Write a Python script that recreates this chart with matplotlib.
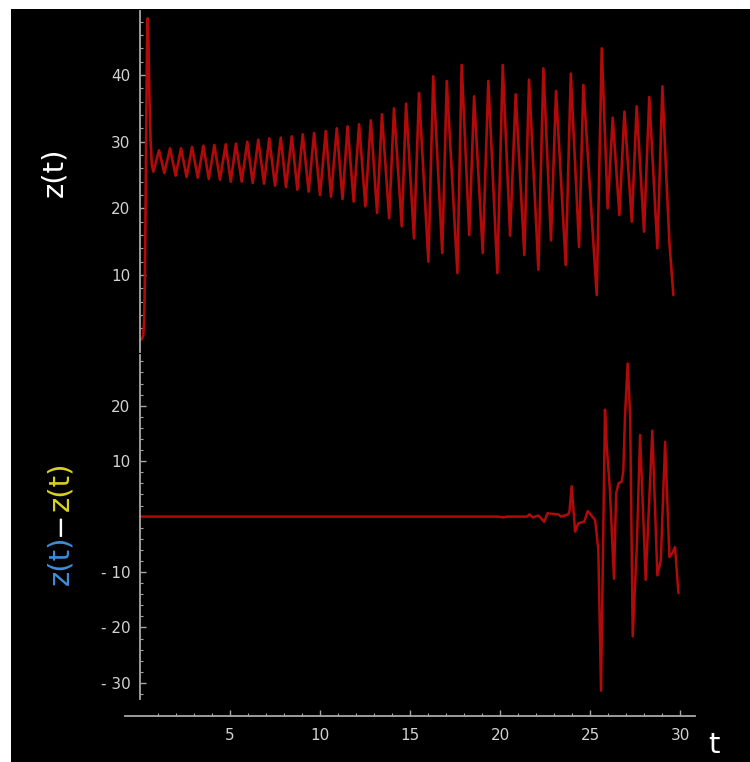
import matplotlib
matplotlib.use("Agg")
import matplotlib.pyplot as plt
from matplotlib.patches import Rectangle
from matplotlib.ticker import FixedLocator

W, H = 750, 762

# z(t) turning points
z_t = [0, 0.1, 0.18, 0.23, 0.27, 0.31, 0.35, 0.39, 0.43, 0.47, 0.52, 0.59, 0.66, 0.74,
       1.06, 1.35, 1.67, 1.98, 2.28, 2.59, 2.89, 3.21, 3.52, 3.82, 4.13, 4.44, 4.76, 5.04,
       5.33, 5.65, 5.96, 6.26, 6.57, 6.89, 7.18, 7.5, 7.82, 8.11, 8.43, 8.74, 9.04, 9.37,
       9.67, 10.0, 10.32, 10.61, 10.93, 11.25, 11.53, 11.87, 12.17, 12.52, 12.82, 13.17,
       13.44, 13.84, 14.11, 14.54, 14.78, 15.22, 15.5, 16.02, 16.29, 16.79, 17.04, 17.63,
       17.87, 18.29, 18.56, 19.04, 19.35, 19.85, 20.15, 20.56, 20.87, 21.35, 21.61, 22.13,
       22.41, 22.83, 23.11, 23.65, 23.93, 24.39, 24.63, 25.37, 25.65, 25.98, 26.26, 26.63,
       26.91, 27.32, 27.59, 28.0, 28.29, 28.74, 29.02, 29.22, 29.41, 29.63]
z_vals = [0.2, 0.4, 0.9, 3, 9, 20, 33, 44, 48.5, 45, 37, 30, 26.5, 25.5,
          28.7, 25.3, 29.0, 24.9, 29.0, 24.7, 29.2, 24.6, 29.4, 24.4, 29.5, 24.3, 29.6, 24.0,
          29.7, 24.0, 30.0, 23.8, 30.3, 23.7, 30.5, 23.4, 30.6, 23.2, 30.8, 22.8, 31.1, 22.5,
          31.3, 22.0, 31.6, 21.75, 32.0, 21.4, 32.3, 21.0, 32.6, 20.3, 33.2, 19.3,
          34.1, 18.5, 35.0, 17.3, 35.7, 15.5, 37.3, 12.0, 39.8, 13.3, 39.1, 10.3,
          41.5, 16.0, 36.8, 13.3, 39.1, 10.3, 41.5, 15.9, 37.1, 13.0, 39.3, 10.8,
          41.0, 15.2, 37.6, 11.5, 40.2, 14.2, 38.5, 7.0, 44.0, 20.0, 33.6, 19.0,
          34.5, 18.0, 35.3, 16.5, 36.7, 14.0, 38.3, 25.8, 14.8, 7.0]

# difference of the two runs, lower panel
d_t = [0, 19.9, 20.18, 20.4, 21.5, 21.63, 21.82, 22.13, 22.46, 22.63, 23.24, 23.39, 23.79,
       23.86, 23.98, 24.17, 24.35, 24.68, 24.87, 25.09, 25.28, 25.46, 25.61, 25.83, 25.93,
       26.1, 26.33, 26.45, 26.58, 26.76, 26.85, 26.94, 27.09, 27.23, 27.37, 27.59, 27.78,
       28.09, 28.46, 28.74, 28.93, 29.17, 29.41, 29.54, 29.72, 29.91]
d_vals = [0, 0, -0.15, 0, 0, 0.4, -0.15, 0.2, -0.95, 0.6, 0.4, 0, 0.4,
          1.0, 5.5, -2.7, -1.2, -0.9, 1.0, 0.15, -0.6, -6, -31.4, 19.3, 12.6,
          5.0, -11.2, 4.2, 6.0, 6.3, 8.4, 18, 27.6, 18, -21.6, -6, 14.7,
          -11.4, 15.5, -10.6, -7.9, 13.5, -7.3, -6.7, -5.5, -13.8]

x_major = [5, 10, 15, 20, 25, 30]
up_major = [10, 20, 30, 40]
lo_major = [-30, -20, -10, 10, 20]
lo_labels = ["- 30", "- 20", "- 10", "10", "20"]

line_col = "#b00a0a"
axis_col = "#a8a8a8"
lab_col = "#d2d2d2"


def box(left, top, right, bottom):
    return [left / W, (H - bottom) / H, (right - left) / W, (bottom - top) / H]


fig = plt.figure(figsize=(W / 100, H / 100), dpi=100, facecolor="white")
fig.add_artist(Rectangle((11 / W, 0), 1, (H - 9) / H, transform=fig.transFigure,
                         facecolor="black", edgecolor="none", zorder=-10))


def style_y(ax):
    ax.set_facecolor("none")
    for s in ["top", "right", "bottom"]:
        ax.spines[s].set_visible(False)
    ax.spines["left"].set_color(axis_col)
    ax.spines["left"].set_linewidth(1.3)
    ax.set_xticks([])
    ax.tick_params(axis="y", which="major", direction="in", length=4.5, width=1,
                   color=axis_col, labelcolor=lab_col, labelsize=11, pad=7)
    ax.tick_params(axis="y", which="minor", direction="in", length=2.5, width=0.8,
                   color=axis_col)


ax1 = fig.add_axes(box(140, 11, 695, 352))
style_y(ax1)
ax1.plot(z_t, z_vals, color=line_col, lw=1.9, clip_on=False,
         solid_joinstyle="round", solid_capstyle="round")
ax1.set_xlim(0, 30.83)
ax1.set_ylim(-1.55, 49.6)
ax1.set_yticks(up_major)
ax1.yaxis.set_minor_locator(FixedLocator([v for v in range(2, 50, 2) if v % 10]))

ax2 = fig.add_axes(box(140, 355, 695, 699))
style_y(ax2)
ax2.plot(d_t, d_vals, color=line_col, lw=1.8, clip_on=False,
         solid_joinstyle="round", solid_capstyle="round")
ax2.set_xlim(0, 30.83)
ax2.set_ylim(-32.9, 29.15)
ax2.set_yticks(lo_major)
ax2.set_yticklabels(lo_labels)
ax2.yaxis.set_minor_locator(FixedLocator([v for v in range(-32, 30, 2) if v % 10]))

ax3 = fig.add_axes(box(125, 706, 695, 716))
ax3.set_facecolor("none")
for s in ["top", "right", "left"]:
    ax3.spines[s].set_visible(False)
ax3.spines["bottom"].set_color(axis_col)
ax3.spines["bottom"].set_linewidth(1.3)
ax3.set_yticks([])
ax3.set_xlim(-0.83, 30.83)
ax3.set_xticks(x_major)
ax3.xaxis.set_minor_locator(FixedLocator([v for v in range(1, 31) if v % 5]))
ax3.tick_params(axis="x", which="major", direction="in", length=4.5, width=1,
                color=axis_col, labelcolor=lab_col, labelsize=11, pad=9)
ax3.tick_params(axis="x", which="minor", direction="in", length=2.5, width=0.8,
                color=axis_col)

fig.text(54 / W, (H - 172) / H, "z(t)", color="white", fontsize=21,
         rotation=90, ha="center", va="center")
fig.text(714 / W, (H - 745) / H, "t", color="white", fontsize=21,
         ha="center", va="center")

# two-colour label for the lower panel, stacked bottom to top
r = fig.canvas.get_renderer()
y = (H - 585) / H
for txt, col in [("z(t)", "#3d8fd8"), ("\u2212", "white"), ("z(t)", "#dcd21e")]:
    t = fig.text(60 / W, y, txt, color=col, fontsize=21, rotation=90,
                 ha="center", va="bottom")
    y += t.get_window_extent(r).height / H

fig.savefig("out.png", dpi=100, facecolor=fig.get_facecolor())
